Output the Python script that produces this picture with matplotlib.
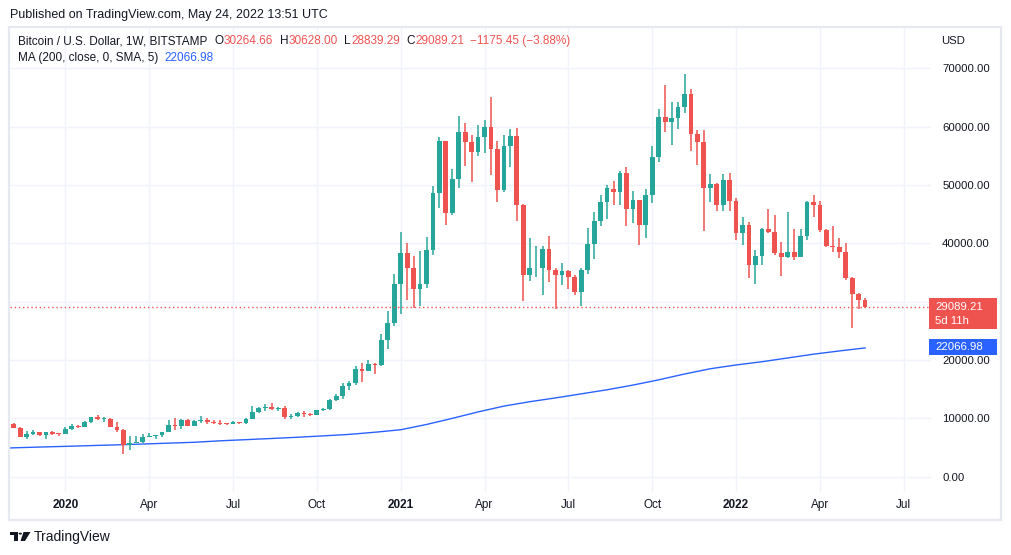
import matplotlib
matplotlib.use("Agg")
import matplotlib.pyplot as plt
import numpy as np
import pandas as pd
from matplotlib.patches import Rectangle, Polygon, Circle
from matplotlib.transforms import Bbox, TransformedBbox, IdentityTransform

# weekly candles, Bitstamp BTC/USD, first week starting 2019-11-11 (Monday)
first_week = "2019-11-11"
opens = [
    9030, 8400, 6850, 7400, 7600, 7100, 7600, 7400, 7330, 8180,
    8750, 8560, 9400, 10180, 9920, 9960, 8530, 8050, 5360, 5830,
    5880, 6780, 6900, 7120, 7700, 8900, 8700, 9680, 8720, 9500,
    9780, 9330, 9250, 9150, 9070, 9300, 9160, 9950, 11070, 11700,
    11950, 11650, 11700, 10270, 10440, 10950, 10800, 10650, 11400, 11600,
    13100, 13800, 15500, 16100, 18450, 18180, 19400, 19150, 23500, 26300,
    33100, 38300, 35800, 32200, 33100, 38900, 48700, 57500, 45150, 51000,
    59000, 57400, 55700, 58300, 60000, 56200, 49100, 56600, 58400, 46500,
    34600, 35700, 35850, 39100, 35500, 34600, 35300, 34300, 31700, 35400,
    39800, 43900, 47000, 49300, 48800, 52100, 45800, 47400, 43100, 48200,
    54800, 61600, 60800, 61400, 63300, 65600, 58700, 57300, 49400, 50100,
    46600, 50800, 47300, 41800, 43100, 36300, 37900, 42400, 42000, 38400,
    37700, 38500, 37700, 41200, 47000, 46500, 42200, 39600, 39400, 38500,
    34000, 31300, 30264.66,
]
highs = [
    9150, 8480, 7850, 7950, 7650, 7700, 7800, 7500, 8460, 9100,
    8900, 9560, 10250, 10560, 10250, 10000, 9310, 8180, 7000, 6990,
    7300, 7470, 7190, 7730, 9660, 10070, 9950, 9840, 9740, 10380,
    9990, 9700, 9700, 9280, 9470, 9340, 10000, 12160, 11900, 12400,
    12680, 12000, 12090, 10800, 11170, 11210, 10950, 11490, 11720, 13350,
    14100, 15990, 16480, 19000, 19420, 19920, 19420, 24400, 28400, 34800,
    42000, 40100, 37900, 38600, 41000, 49800, 58300, 57600, 52650, 61800,
    60600, 58500, 60200, 61200, 65000, 57600, 58500, 59600, 59700, 46700,
    40900, 39500, 39500, 41300, 35800, 36700, 35400, 34500, 35700, 42600,
    45300, 48200, 50000, 50600, 52400, 53000, 48900, 47500, 49300, 56600,
    63000, 67100, 64300, 64300, 69000, 66400, 59500, 59400, 51900, 50300,
    51800, 52100, 47700, 44500, 43600, 38900, 42700, 45900, 44800, 40300,
    45300, 42500, 42400, 47200, 48200, 47200, 42400, 42900, 40900, 40100,
    34300, 31400, 30628.00,
]
lows = [
    8350, 6790, 6530, 7100, 7050, 6450, 7200, 7000, 7300, 8060,
    8300, 8550, 9120, 9720, 9450, 8450, 7650, 3900, 4500, 5690,
    5860, 6750, 6480, 6800, 7670, 8050, 8200, 8820, 8630, 9280,
    9100, 9030, 8830, 8900, 9040, 9000, 9050, 9900, 10950, 11300,
    11400, 11300, 9880, 9880, 10260, 10280, 10370, 10530, 11200, 11400,
    12970, 13300, 14800, 15800, 16300, 18100, 17600, 19000, 21900, 25900,
    27800, 30200, 28900, 29200, 32300, 38000, 46000, 43100, 44900, 49400,
    53300, 50500, 54900, 55500, 51700, 47100, 48800, 53100, 43800, 30100,
    33500, 34200, 31100, 33400, 28800, 32800, 32100, 31100, 29300, 34700,
    37300, 43000, 44100, 46500, 46600, 43000, 43500, 39700, 40900, 46900,
    54000, 59100, 56800, 59600, 62300, 55800, 53400, 42100, 47000, 45500,
    45600, 45600, 40600, 39700, 34000, 33000, 36300, 41800, 37950, 34400,
    37500, 37200, 37600, 40600, 44500, 42000, 39300, 38500, 37500, 33700,
    25500, 28700, 28839.29,
]
closes = [
    8400, 6850, 7400, 7600, 7100, 7600, 7300, 7330, 8180, 8680,
    8560, 9400, 10180, 9920, 9960, 8530, 8050, 5360, 5830, 5880,
    6780, 6900, 7120, 7700, 8900, 8700, 9680, 8720, 9500, 9780,
    9300, 9250, 9020, 9070, 9300, 9160, 9950, 11070, 11700, 11950,
    11650, 11700, 10270, 10440, 10950, 10750, 10650, 11400, 11600, 13100,
    13800, 15500, 16100, 18450, 18180, 19400, 19150, 23500, 26300, 33100,
    38300, 35800, 32200, 33100, 38900, 48700, 57500, 45150, 51000, 59000,
    57400, 55700, 58300, 60000, 56200, 49100, 56600, 58400, 46500, 34600,
    35700, 35850, 39000, 35500, 34600, 35300, 34300, 31700, 35400, 39800,
    43900, 47000, 49400, 48800, 52100, 45800, 47400, 43100, 48200, 54800,
    61600, 60800, 61400, 63300, 65600, 58700, 57300, 49400, 50100, 46600,
    50800, 47300, 41800, 43100, 36300, 37900, 42400, 42000, 38400, 37700,
    38500, 37700, 41200, 47000, 46500, 42200, 39600, 39400, 38500, 34000,
    31300, 30260, 29089.21,
]

# 200-week SMA (week index, value); starts at the left edge
ma_weeks = [-1, 0, 4, 8, 12, 16, 20, 24, 28, 32, 36, 40, 44, 48, 52, 56, 60,
            64, 68, 72, 76, 80, 84, 88, 92, 96, 100, 104, 108, 112, 116, 120,
            124, 128, 132]
ma_values = [4910, 4950, 5080, 5200, 5330, 5460, 5600, 5750, 5900, 6150, 6350,
             6550, 6760, 7000, 7250, 7620, 8050, 8950, 10000, 11100, 12100,
             12850, 13500, 14200, 14900, 15700, 16600, 17600, 18500, 19150,
             19700, 20350, 21000, 21550, 22066.98]

price_ticks = [0, 10000, 20000, 30000, 40000, 50000, 60000, 70000]
last_close = 29089.21
last_ma = 22066.98

UP = "#26a69a"
DOWN = "#ef5350"
MA_BLUE = "#2962ff"
TXT = "#131722"
GRID = "#f0f3fa"
W, H = 1012, 555

plt.rcParams["font.family"] = ["Liberation Sans", "DejaVu Sans"]

fig = plt.figure(figsize=(W / 100, H / 100), dpi=100)
fig.patch.set_facecolor("white")

# plot pane in pixel coords: x 10..931, y 28..492
ax = fig.add_axes([10 / W, (H - 492) / H, 921 / W, 464 / H])
ax.set_facecolor("white")

n = len(closes)
idx = np.arange(n)
o = np.array(opens, float)
c = np.array(closes, float)
hi = np.array(highs, float)
lo = np.array(lows, float)
cols = [UP if cc >= oo else DOWN for oo, cc in zip(o, c)]

# weekly date grid for the quarter ticks (runs a bit past the data)
weeks = pd.date_range(first_week, periods=n + 12, freq="W-MON")
tick_pos, tick_lab, tick_bold = [], [], []
prev_month = None
for i, d in enumerate(weeks):
    if d.month in (1, 4, 7, 10) and d.month != prev_month:
        tick_pos.append(i)
        tick_lab.append(str(d.year) if d.month == 1 else d.strftime("%b"))
        tick_bold.append(d.month == 1)
    prev_month = d.month

ax.set_xlim(-0.574, -0.574 + 921 / 6.45)
ax.set_ylim(-2622, 76898)

for p in tick_pos:
    ax.axvline(p, color=GRID, lw=1, zorder=0)
for p in price_ticks:
    ax.axhline(p, color=GRID, lw=1, zorder=0)

ax.plot(ma_weeks, ma_values, color=MA_BLUE, lw=1.0, zorder=2)

ax.vlines(idx, lo, hi, colors=cols, lw=1.1, zorder=3)
body_h = np.maximum(np.abs(c - o), 150)
ax.bar(idx, body_h, bottom=np.minimum(o, c), width=0.74, color=cols,
       edgecolor="none", zorder=4)

ax.axhline(last_close, color=DOWN, lw=1, ls=(0, (1, 2)), zorder=5)

for s in ax.spines.values():
    s.set_visible(False)
ax.yaxis.tick_right()
ax.set_yticks(price_ticks)
ax.set_yticklabels([f"{v:.2f}" for v in price_ticks])
ax.tick_params(axis="y", length=0, pad=8, labelsize=8.2, labelcolor=TXT)
ax.set_xticks([])

# price labels partly hidden behind the last-price / MA boxes, as in the app
for tick in ax.yaxis.get_major_ticks():
    lab = tick.label2
    if lab.get_text() == "30000.00":
        lab.set_clip_on(True)
        lab.set_clip_box(TransformedBbox(Bbox([[900, H - 298], [W, H]]),
                                         IdentityTransform()))
    elif lab.get_text() == "20000.00":
        lab.set_clip_on(True)
        lab.set_clip_box(TransformedBbox(Bbox([[900, 0], [W, H - 354.5]]),
                                         IdentityTransform()))

time_y = -(505 - 492) / 464
for p, lab, b in zip(tick_pos, tick_lab, tick_bold):
    ax.text(p, time_y, lab, transform=ax.get_xaxis_transform(),
            ha="center", va="center", fontsize=8.5, color=TXT,
            fontweight="bold" if b else "normal")

# outer frame
fig.add_artist(Rectangle((9.5 / W, (H - 520) / H), 992 / W, 493 / H,
                         transform=fig.transFigure, fill=False,
                         edgecolor="#e6e9f0", lw=1.6))

renderer = fig.canvas.get_renderer()


def put_row(x_px, y_px, parts, size):
    x = x_px
    for txt, col, gap in parts:
        t = fig.text(x / W, 1 - y_px / H, txt, color=col, fontsize=size,
                     ha="left", va="center")
        bb = t.get_window_extent(renderer)
        x = bb.x1 + gap


put_row(10, 15, [("Published on TradingView.com, May 24, 2022 13:51 UTC", TXT, 0)], 9)
put_row(18, 41, [("Bitcoin / U.S. Dollar, 1W, BITSTAMP", TXT, 7),
                 ("O", TXT, 0), (f"{opens[-1]:.2f}", DOWN, 7),
                 ("H", TXT, 0), (f"{highs[-1]:.2f}", DOWN, 7),
                 ("L", TXT, 0), (f"{lows[-1]:.2f}", DOWN, 7),
                 ("C", TXT, 0), (f"{closes[-1]:.2f}", DOWN, 6),
                 ("\u22121175.45 (\u22123.88%)", DOWN, 0)], 8.5)
put_row(18, 58, [("MA (200, close, 0, SMA, 5)", TXT, 6),
                 (f"{last_ma:.2f}", MA_BLUE, 0)], 8.5)
fig.text(941 / W, 1 - 41 / H, "USD", fontsize=8.2, color=TXT, ha="left", va="center")

# last price and MA labels on the price scale
fig.add_artist(Rectangle((929 / W, 1 - 329 / H), 68 / W, 31 / H,
                         transform=fig.transFigure, color=DOWN, lw=0))
fig.text(935 / W, 1 - 306.5 / H, f"{last_close:.2f}", fontsize=8.2, color="white",
         ha="left", va="center")
fig.text(935 / W, 1 - 320.5 / H, "5d 11h", fontsize=8.2, color="white",
         ha="left", va="center")
fig.add_artist(Rectangle((929 / W, 1 - 354.5 / H), 68 / W, 16 / H,
                         transform=fig.transFigure, color=MA_BLUE, lw=0))
fig.text(935 / W, 1 - 346.5 / H, f"{last_ma:.2f}", fontsize=8.2, color="white",
         ha="left", va="center")


# TradingView logo + wordmark
def fxy(x, y):
    return (x / W, 1 - y / H)


fig.add_artist(Polygon([fxy(10, 532), fxy(17.5, 532), fxy(17.5, 541), fxy(14, 541),
                        fxy(14, 535), fxy(10, 535)], closed=True,
                       transform=fig.transFigure, color=TXT, lw=0))
fig.add_artist(Circle(fxy(20.3, 533.6), 1.7 / W, transform=fig.transFigure,
                      color=TXT, lw=0))
fig.add_artist(Polygon([fxy(23.5, 532), fxy(30.5, 532), fxy(25, 541), fxy(20.5, 541)],
                       closed=True, transform=fig.transFigure, color=TXT, lw=0))
fig.text(34 / W, 1 - 537 / H, "TradingView", fontsize=10, color=TXT,
         ha="left", va="center")

fig.savefig("out.png", dpi=100, facecolor="white")
